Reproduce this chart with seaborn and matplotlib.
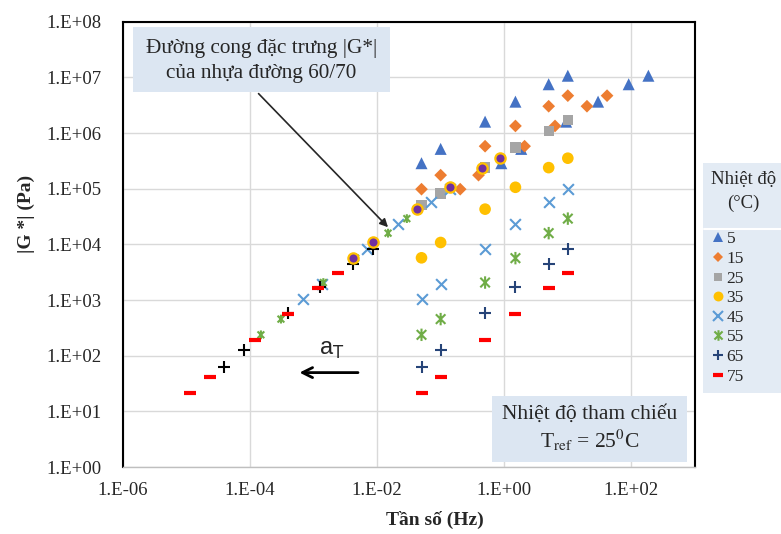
import numpy as np
import pandas as pd
import seaborn as sns
import matplotlib.pyplot as plt
from matplotlib.lines import Line2D
from matplotlib.patches import Rectangle
from matplotlib.path import Path
from matplotlib.ticker import FuncFormatter, FixedLocator, NullLocator

# measured frequencies (Hz), same at every temperature
freq = [0.05, 0.1, 0.5, 1.5, 5, 10]

# |G*| (Pa) at each test temperature
g_5 = [2.87e5, 5.19e5, 1.60e6, 3.66e6, 7.52e6, 1.07e7]
g_15 = [9.8e4, 1.75e5, 5.8e5, 1.34e6, 3.03e6, 4.69e6]
g_25 = [5.12e4, 8.16e4, 2.39e5, 5.47e5, 1.10e6, 1.72e6]
g_35 = [5730, 10800, 42900, 1.06e5, 2.39e5, 3.53e5]
g_45 = [1040, 1930, 8300, 23100, 58600, 98000]
g_55 = [237, 454, 2060, 5650, 15900, 29000]
g_65 = [63, 126, 582, 1725, 4420, 8300]
g_75 = [21, 42, 190, 565, 1675, 3120]

# reduced frequencies (Hz) after shifting to Tref = 25 C
fr_5 = [0.90, 1.85, 9.4, 29.9, 90.6, 185]
fr_15 = [0.203, 0.394, 2.09, 6.29, 20.0, 41.4]
fr_25 = [0.05, 0.1, 0.5, 1.5, 5, 10]
fr_35 = [4.14e-3, 8.55e-3, 0.0422, 0.138, 0.44, 0.843]
fr_45 = [6.9e-4, 1.34e-3, 7.03e-3, 0.0216, 0.0702, 0.141]
fr_55 = [1.49e-4, 3.08e-4, 1.43e-3, 4.6e-3, 0.0149, 0.0294]
fr_65 = [3.93e-5, 8.05e-5, 4.0e-4, 1.26e-3, 4.14e-3, 8.55e-3]
fr_75 = [1.16e-5, 2.4e-5, 1.2e-4, 3.93e-4, 1.19e-3, 2.4e-3]

temps = ["5", "15", "25", "35", "45", "55", "65", "75"]

sns.set_style("white")
plt.rcParams['font.family'] = ['Liberation Serif', 'DejaVu Serif']
plt.rcParams['mathtext.fontset'] = 'stix'

star = Path([(-1, -1), (1, 1), (-1, 1), (1, -1), (0, -1.3), (0, 1.3)],
            [Path.MOVETO, Path.LINETO, Path.MOVETO, Path.LINETO, Path.MOVETO, Path.LINETO])

# marker, colour, size, line width, filled
style = {
    "5": ("^", "#4472c4", 75, 0, True),
    "15": ("D", "#ed7d31", 42, 0, True),
    "25": ("s", "#a5a5a5", 55, 0, True),
    "35": ("o", "#ffc000", 70, 0, True),
    "45": ("x", "#5b9bd5", 60, 1.5, False),
    "55": (star, "#70ad47", 80, 1.5, False),
    "65": ("+", "#264478", 70, 1.5, False),
    "75": ("_", "#ff0000", 75, 3, False),
}

meas = dict(zip(temps, [g_5, g_15, g_25, g_35, g_45, g_55, g_65, g_75]))
shifted = dict(zip(temps, [fr_5, fr_15, fr_25, fr_35, fr_45, fr_55, fr_65, fr_75]))

fig = plt.figure(figsize=(7.81, 5.34), dpi=100)
ax = fig.add_axes([122.7 / 781, 1 - 467 / 534, 572.3 / 781, 445.3 / 534])


def draw(x, y, t, color=None, s=None, edge=None, z=3):
    m, c, size, lw, filled = style[t]
    kw = dict(marker=m, s=size if s is None else s, color=c if color is None else color,
              zorder=z, legend=False, ax=ax)
    if filled:
        kw['edgecolor'] = 'none' if edge is None else edge
        kw['linewidth'] = 0 if edge is None else 1.6
    elif m is star:
        kw['edgecolor'] = kw['color']
        kw['facecolor'] = 'none'
        kw['linewidth'] = lw
    else:
        kw['linewidth'] = lw
    sns.scatterplot(x=x, y=y, **kw)


# measured data
for t in temps:
    draw(freq, meas[t], t)

# master curve (shifted data)
for t in temps:
    if t == "35":
        draw(shifted[t], meas[t], t, color="#7030a0", s=55, edge="#ffc000", z=4)
    elif t == "55":
        draw(shifted[t], meas[t], t, s=40)
    elif t == "65":
        draw(shifted[t], meas[t], t, color="black")
    else:
        draw(shifted[t], meas[t], t)

ax.set_xscale('log')
ax.set_yscale('log')
ax.set_xlim(1e-6, 1e3)
ax.set_ylim(1, 1e8)
ax.xaxis.set_major_locator(FixedLocator([1e-6, 1e-4, 1e-2, 1e0, 1e2]))
ax.yaxis.set_major_locator(FixedLocator([10.0 ** k for k in range(0, 9)]))
ax.xaxis.set_minor_locator(NullLocator())
ax.yaxis.set_minor_locator(NullLocator())
fmt = FuncFormatter(lambda v, p: "1.E{:+03d}".format(int(round(np.log10(v)))))
ax.xaxis.set_major_formatter(fmt)
ax.yaxis.set_major_formatter(fmt)
ax.tick_params(axis='x', length=5, width=1, color='#bfbfbf', pad=6, labelsize=13.5, direction='out')
ax.tick_params(axis='y', length=0, pad=15, labelsize=13.5)
ax.grid(True, color='#d9d9d9', lw=1)
ax.set_axisbelow(True)
for sp in ['left', 'top', 'right']:
    ax.spines[sp].set_color('black')
    ax.spines[sp].set_linewidth(1.5)
ax.spines['bottom'].set_color('#bfbfbf')
ax.spines['bottom'].set_linewidth(1)
ax.set_xlabel('')
ax.set_ylabel('')

fig.text(435 / 781, 1 - 520 / 534, 'Tần số (Hz)', ha='center', va='center',
         fontsize=14, fontweight='bold')
fig.text(26 / 781, 1 - 214 / 534, '|G *| (Pa)', ha='center', va='center',
         rotation=90, fontsize=14, fontweight='bold')

# annotation boxes
box_c = '#dce6f2'
ax.add_patch(Rectangle((0.0175, 0.842), 0.449, 0.146, transform=ax.transAxes,
                       facecolor=box_c, edgecolor='none', zorder=5))
ax.text(0.242, 0.912, 'Đường cong đặc trưng |G*|\ncủa nhựa đường 60/70',
        transform=ax.transAxes, ha='center', va='center', fontsize=15.3,
        linespacing=1.45, zorder=6)
ax.annotate('', xy=(0.467, 0.534), xytext=(0.234, 0.843),
            xycoords='axes fraction', textcoords='axes fraction',
            arrowprops=dict(arrowstyle='-|>', color='#262626', lw=1.2,
                            mutation_scale=12), zorder=6)

ax.add_patch(Rectangle((0.645, 0.011), 0.341, 0.148, transform=ax.transAxes,
                       facecolor=box_c, edgecolor='none', zorder=5))
ax.text(0.816, 0.085, 'Nhiệt độ tham chiếu\nT$_{\\mathrm{ref}}$ = 25$^{0}$C',
        transform=ax.transAxes, ha='center', va='center', fontsize=15.5,
        linespacing=1.2, zorder=6)

# shift factor arrow
ax.annotate('', xy=(0.304, 0.212), xytext=(0.416, 0.212),
            xycoords='axes fraction', textcoords='axes fraction',
            arrowprops=dict(arrowstyle='->', color='black', lw=2,
                            mutation_scale=18), zorder=6)
ax.text(0.365, 0.263, 'a$_\\mathrm{T}$', transform=ax.transAxes, ha='center',
        va='center', fontsize=17, family=['Liberation Sans', 'DejaVu Sans'],
        math_fontfamily='dejavusans')

# legend
handles = []
for t in temps:
    m, c, size, lw, filled = style[t]
    ms = np.sqrt(size) * 0.85
    if filled:
        handles.append(Line2D([], [], marker=m, linestyle='none', color=c, markersize=ms,
                              markeredgewidth=0))
    else:
        handles.append(Line2D([], [], marker=m, linestyle='none', color=c, markersize=ms,
                              markeredgewidth=lw, markerfacecolor='none'))
leg = fig.legend(handles, temps, title='Nhiệt độ\n(°C)', loc='upper left',
                 bbox_to_anchor=(703 / 781, 1 - 163 / 534), frameon=True,
                 facecolor=box_c, edgecolor='none', fancybox=False, fontsize=12.5,
                 title_fontsize=13.5, handlelength=0.8, handletextpad=0.1,
                 labelspacing=0.2, borderpad=0.45, borderaxespad=0, alignment='left')
leg.get_title().set_multialignment('center')
leg.get_title().set_linespacing(1.5)
leg._legend_box.sep = 14
fig.add_artist(Line2D([704 / 781, 1], [1 - 229 / 534, 1 - 229 / 534], color='white', lw=1.5,
                      transform=fig.transFigure, zorder=10))

fig.savefig('out.png', dpi=100)
